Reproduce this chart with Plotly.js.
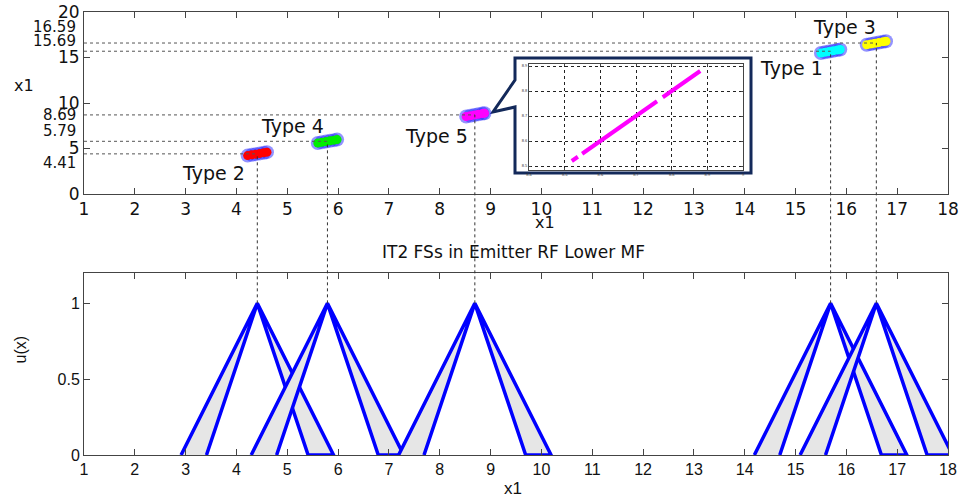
<!DOCTYPE html>
<html>
<head>
<meta charset="utf-8">
<script src="https://cdn.plot.ly/plotly-3.0.1.min.js"></script>
<style>
  html, body { margin: 0; padding: 0; background: #fff; }
  #chart { width: 960px; height: 501px; }
</style>
</head>
<body>
<div id="chart"></div>
<script>
// ---------------- data ----------------
const typeNames   = ['Type 2', 'Type 4', 'Type 5', 'Type 1', 'Type 3'];
const typeCenters = [4.41, 5.79, 8.69, 15.69, 16.59];
const typeColors  = ['#ff0000', '#00ee00', '#ff00ff', '#00ffff', '#ffff00'];
const centerLabels = ['4.41', '5.79', '8.69', '15.69', '16.59'];

// sample clusters in the top (x1 vs x1) plot
const clusterX = [
  [4.22, 4.30, 4.38, 4.46, 4.54, 4.60],
  [5.60, 5.68, 5.76, 5.84, 5.92, 5.98],
  [8.52, 8.60, 8.68, 8.76, 8.84, 8.88],
  [15.50, 15.58, 15.66, 15.74, 15.82, 15.88],
  [16.40, 16.48, 16.56, 16.64, 16.72, 16.78]
];
const clusterY = [
  [4.22, 4.30, 4.38, 4.46, 4.54, 4.60],
  [5.60, 5.68, 5.76, 5.84, 5.92, 5.98],
  [8.52, 8.60, 8.68, 8.76, 8.84, 8.88],
  [15.50, 15.58, 15.66, 15.74, 15.82, 15.88],
  [16.40, 16.48, 16.56, 16.64, 16.72, 16.78]
];

// IT2 fuzzy sets (feet of upper / lower MFs)
const outerLeft  = [2.91, 4.29, 7.19, 14.19, 15.09];
const innerLeft  = [3.41, 4.79, 7.69, 14.69, 15.59];
const innerRight = [5.41, 6.79, 9.69, 16.69, 17.59];
const outerRight = [5.91, 7.29, 10.19, 17.19, 18.09];

// zoomed inset of Type 5 samples
const insetX = [8.52, 8.537, null, 8.549, 8.759, null, 8.775, 8.88];
const insetY = [8.52, 8.537, null, 8.549, 8.759, null, 8.775, 8.88];

const xTickVals = [1,2,3,4,5,6,7,8,9,10,11,12,13,14,15,16,17,18];
const topYTicks = [0, 5, 10, 15, 20];
const botYTicks = [0, 0.5, 1];
const botYText  = ['0', '0.5', '1'];
const insetXTicks = [8.4, 8.5, 8.6, 8.7, 8.8, 8.9, 9.0];
const insetXText  = ['8.4', '8.5', '8.6', '8.7', '8.8', '8.9', '9'];
const insetYTicks = [8.5, 8.6, 8.7, 8.8, 8.9];

// ---------------- layout helpers ----------------
const W = 960, H = 501;
const M = {l: 84, r: 12, t: 12, b: 46};
const PW = W - M.l - M.r, PH = H - M.t - M.b;
const px = v => (v - M.l) / PW;          // pixel x -> paper
const py = v => (H - M.b - v) / PH;      // pixel y -> paper

const topDomain = [py(194), 1];
const botDomain = [0, py(273)];
const topRange = [0, 20];
const botRange = [0, 1.2];
const toPaperY = (dom, rng, v) => dom[0] + (v - rng[0]) / (rng[1] - rng[0]) * (dom[1] - dom[0]);

const BLUE = '#0000ff';
const AX = '#444';
const F1 = 'DejaVu Sans, Arial, sans-serif';
const F2 = 'Liberation Sans, Arial, sans-serif';

// ---------------- traces ----------------
const traces = [];

// IT2 FS polygons (bottom)
for (let i = 0; i < typeNames.length; i++) {
  traces.push({
    type: 'scatter', mode: 'lines', xaxis: 'x2', yaxis: 'y2',
    x: [outerLeft[i], typeCenters[i], outerRight[i], innerRight[i], typeCenters[i], innerLeft[i]],
    y: [0, 1, 0, 0, 1, 0],
    fill: 'toself', fillcolor: '#e6e6e6',
    line: {color: BLUE, width: 3.5},
    showlegend: false, hoverinfo: 'skip', cliponaxis: true
  });
}

// sample clusters (top)
for (let i = 0; i < typeNames.length; i++) {
  traces.push({
    type: 'scatter', mode: 'markers', xaxis: 'x', yaxis: 'y',
    x: clusterX[i], y: clusterY[i],
    marker: {symbol: 'circle', size: 14, color: 'rgba(40,40,255,0.5)'},
    showlegend: false, hoverinfo: 'skip'
  });
  traces.push({
    type: 'scatter', mode: 'markers', xaxis: 'x', yaxis: 'y',
    x: clusterX[i], y: clusterY[i],
    marker: {symbol: 'circle', size: 9, color: typeColors[i]},
    showlegend: false, hoverinfo: 'skip'
  });
}

// inset line
traces.push({
  type: 'scatter', mode: 'lines', xaxis: 'x3', yaxis: 'y3',
  x: insetX, y: insetY, connectgaps: false,
  line: {color: '#ff00ff', width: 4},
  showlegend: false, hoverinfo: 'skip'
});

// ---------------- shapes ----------------
const shapes = [];
// speech-bubble inset frame
const bx0 = px(515), bx1 = px(751), byT = py(58), byB = py(173);
shapes.push({
  type: 'path', xref: 'paper', yref: 'paper', layer: 'below',
  path: `M ${bx0},${byT} L ${bx1},${byT} L ${bx1},${byB} L ${bx0},${byB} L ${bx0},${py(107)} L ${px(493)},${py(112)} L ${bx0},${py(80)} Z`,
  fillcolor: '#ffffff', line: {color: '#13295a', width: 3}
});
for (let i = 0; i < typeNames.length; i++) {
  const c = typeCenters[i];
  // horizontal guide in top plot
  shapes.push({
    type: 'line', xref: 'x', yref: 'y', x0: 1, x1: c, y0: c, y1: c,
    line: {color: '#555', width: 1, dash: 'dot'}
  });
  // vertical guide from sample down to MF apex
  shapes.push({
    type: 'line', xref: 'x', yref: 'paper', x0: c, x1: c,
    y0: toPaperY(botDomain, botRange, 1), y1: toPaperY(topDomain, topRange, c),
    line: {color: '#333', width: 1, dash: 'dot'}
  });
}

// ---------------- annotations ----------------
const ann = [];
const typeLabelPos = [[3.54, 2.3], [5.10, 7.5], [7.93, 6.4], [14.93, 13.8], [15.97, 18.4]];
for (let i = 0; i < typeNames.length; i++) {
  ann.push({
    xref: 'x', yref: 'y', x: typeLabelPos[i][0], y: typeLabelPos[i][1],
    text: typeNames[i], showarrow: false,
    font: {family: F1, size: 19, color: '#111'}
  });
}
// extra y labels on the top plot (placed beside the regular ticks)
const labelShift = [-9, 10, 0, 10, 16];
for (let i = 0; i < centerLabels.length; i++) {
  ann.push({
    xref: 'paper', yref: 'y', x: 0, y: typeCenters[i],
    xanchor: 'right', xshift: -6, yshift: labelShift[i],
    text: centerLabels[i], showarrow: false,
    font: {family: F1, size: 15, color: '#111'}
  });
}
ann.push({xref: 'paper', yref: 'paper', x: px(12), y: py(74), text: 'x1', showarrow: false,
  font: {family: F1, size: 16, color: '#111'}});
ann.push({xref: 'paper', yref: 'paper', x: px(545), y: py(222), text: 'x1', showarrow: false,
  font: {family: F1, size: 16, color: '#111'}});
ann.push({xref: 'paper', yref: 'paper', x: px(513), y: py(252), text: 'IT2 FSs in Emitter RF Lower MF', showarrow: false,
  font: {family: F1, size: 17, color: '#111'}});
ann.push({xref: 'paper', yref: 'paper', x: px(513), y: py(500), text: 'x1', showarrow: false,
  font: {family: F2, size: 17, color: '#111'}});
ann.push({xref: 'paper', yref: 'paper', x: px(9), y: py(366), text: 'u(x)', showarrow: false, textangle: -90,
  font: {family: F2, size: 16, color: '#111'}});

// ---------------- layout ----------------
const layout = {
  width: W, height: H,
  margin: M,
  paper_bgcolor: '#ffffff',
  plot_bgcolor: 'rgba(0,0,0,0)',
  showlegend: false,
  xaxis: {
    domain: [0, 1], anchor: 'y', range: [1, 18], tickvals: xTickVals,
    ticks: 'inside', ticklen: 6, tickcolor: AX, showline: true, linecolor: AX, linewidth: 1,
    mirror: 'ticks', showgrid: false, zeroline: false,
    tickfont: {family: F1, size: 17, color: '#111'}
  },
  yaxis: {
    domain: topDomain, anchor: 'x', range: topRange, tickvals: topYTicks,
    ticks: 'inside', ticklen: 6, tickcolor: AX, showline: true, linecolor: AX, linewidth: 1,
    mirror: 'ticks', showgrid: false, zeroline: false,
    tickfont: {family: F1, size: 17, color: '#111'}
  },
  xaxis2: {
    domain: [0, 1], anchor: 'y2', range: [1, 18], tickvals: xTickVals,
    ticks: 'inside', ticklen: 6, tickcolor: AX, showline: true, linecolor: AX, linewidth: 1,
    mirror: 'ticks', showgrid: false, zeroline: false,
    tickfont: {family: F2, size: 16, color: '#111'}
  },
  yaxis2: {
    domain: botDomain, anchor: 'x2', range: botRange, tickvals: botYTicks, ticktext: botYText,
    ticks: 'inside', ticklen: 6, tickcolor: AX, showline: true, linecolor: AX, linewidth: 1,
    mirror: 'ticks', showgrid: false, zeroline: false,
    tickfont: {family: F2, size: 16, color: '#111'}
  },
  xaxis3: {
    domain: [px(529), px(743)], anchor: 'y3', range: [8.4, 9.0],
    tickvals: insetXTicks, ticktext: insetXText,
    ticks: 'inside', ticklen: 2, showline: true, linecolor: AX, mirror: 'ticks',
    showgrid: true, gridcolor: '#222', griddash: 'dot', gridwidth: 1, zeroline: false,
    tickfont: {family: F2, size: 4, color: '#333'}
  },
  yaxis3: {
    domain: [py(170), py(64)], anchor: 'x3', range: [8.484, 8.908],
    tickvals: insetYTicks,
    ticks: 'inside', ticklen: 2, showline: true, linecolor: AX, mirror: 'ticks',
    showgrid: true, gridcolor: '#222', griddash: 'dot', gridwidth: 1, zeroline: false,
    tickfont: {family: F2, size: 4, color: '#333'}
  },
  shapes: shapes,
  annotations: ann
};

Plotly.newPlot('chart', traces, layout, {displayModeBar: false, staticPlot: true});
</script>
</body>
</html>
